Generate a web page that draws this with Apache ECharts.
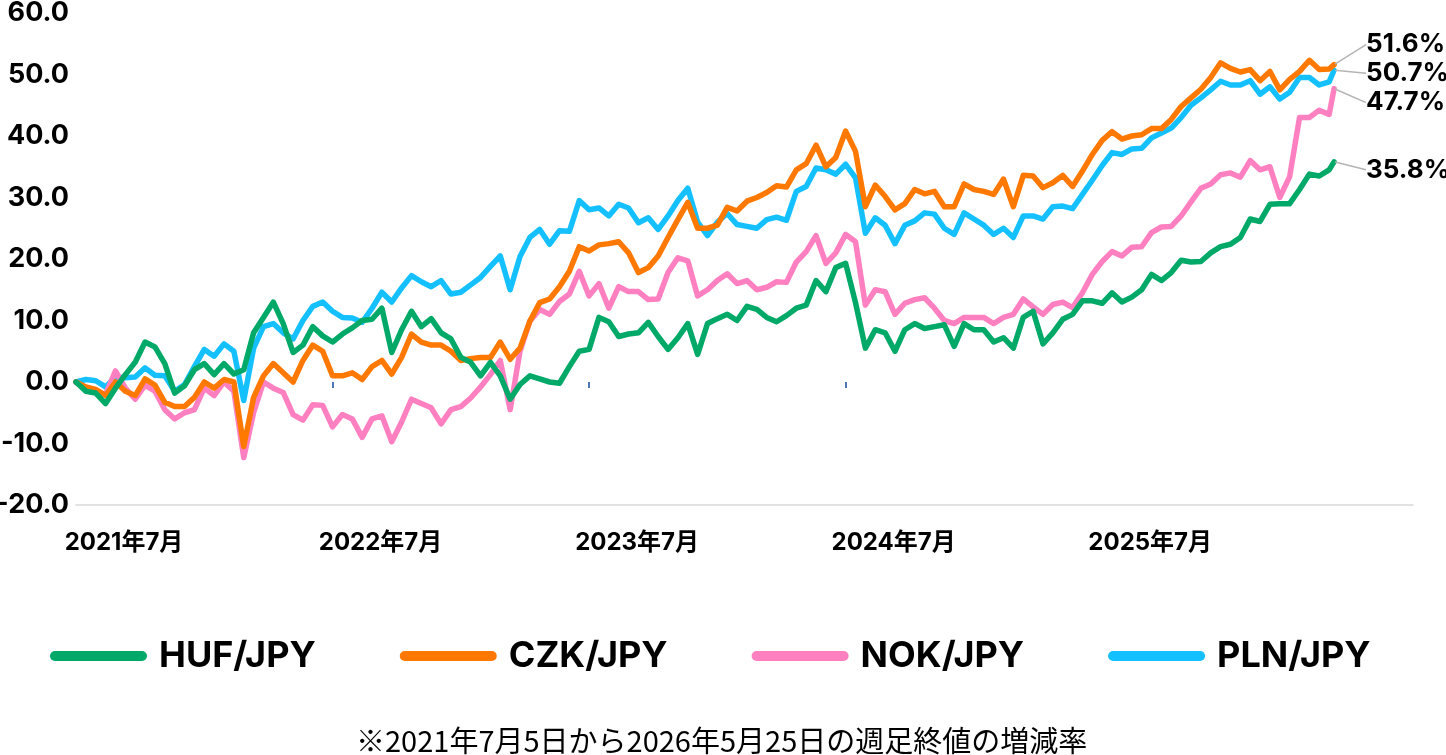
<!DOCTYPE html>
<html>
<head>
<meta charset="utf-8">
<script src="https://cdn.jsdelivr.net/npm/echarts@6/dist/echarts.min.js"></script>
<style>
  html, body { margin: 0; padding: 0; background: #fff; }
  #chart { width: 1446px; height: 755px; }
</style>
</head>
<body>
<div id="chart"></div>
<script>
// values, one every 2 weeks from 2021-07-05, last one = 2026-05-25
const hufJpy = [
  0, -1.5, -1.8, -3.5, -1, 1.2, 3.2, 6.5, 5.7, 3,
  -1.8, -0.6, 2, 3, 1.2, 3, 1.3, 2, 8, 10.5,
  13, 9.5, 4.8, 6, 9, 7.5, 6.5, 7.8, 8.8, 10,
  10.2, 12, 4.8, 8.5, 11.5, 9, 10.3, 8, 7, 4,
  3.2, 1, 3.2, 1, -2.8, -0.4, 1, 0.5, 0, -0.2,
  2.5, 5, 5.3, 10.5, 9.8, 7.4, 7.8, 8, 9.7, 7.4,
  5.3, 7.2, 9.5, 4.5, 9.5, 10.3, 11, 10, 12.3, 11.8,
  10.5, 9.8, 10.8, 12, 12.5, 16.5, 14.7, 18.6, 19.3, 12.9,
  5.5, 8.5, 8, 5, 8.5, 9.5, 8.7, 9, 9.3, 5.8,
  9.5, 8.5, 8.5, 6.5, 7.2, 5.5, 10.5, 11.5, 6.2, 8,
  10.2, 11, 13.2, 13.2, 12.8, 14.5, 13, 13.8, 15, 17.5,
  16.5, 17.8, 19.8, 19.5, 19.6, 21, 22, 22.4, 23.5, 26.5,
  26.1, 28.9, 29, 29, 31.3, 33.8, 33.5, 34.5, 35.8
];
const czkJpy = [
  0, -0.8, -1.2, -2.2, 0, -1.5, -2.2, 0.5, -0.5, -3.3,
  -4, -4, -2.5, 0, -1, 0.4, 0, -10.5, -2.5, 1,
  3, 1.5, 0, 3.5, 6, 5, 1, 1, 1.5, 0.4,
  2.5, 3.5, 1.3, 4, 7.8, 6.5, 6, 6, 5, 3.5,
  3.8, 4, 4, 6.5, 3.7, 5.5, 9.9, 12.9, 13.5, 15.5,
  18, 22, 21.3, 22.3, 22.5, 22.8, 21, 17.8, 18.6, 20.5,
  23.5, 26.4, 29.2, 25, 25, 25.5, 28.4, 27.8, 29.4, 30,
  30.8, 31.9, 31.7, 34.5, 35.5, 38.5, 35, 36.5, 40.8, 37.5,
  28.5, 32, 30.2, 28, 29, 31.3, 30.6, 31, 28.5, 28.5,
  32.2, 31.3, 31, 30.5, 33, 28.5, 33.6, 33.5, 31.6, 32.4,
  33.6, 31.8, 34.3, 37, 39.3, 40.7, 39.5, 40, 40.2, 41.2,
  41.2, 42.7, 44.8, 46.2, 47.6, 49.5, 51.9, 51, 50.4, 50.8,
  49, 50.5, 47.5, 49.2, 50.5, 52.3, 50.8, 50.9, 51.6
];
const nokJpy = [
  0, -1.2, -1.5, -2, 1.8, -1, -2.8, -0.5, -1.5, -4.5,
  -6, -5, -4.5, -1, -2.2, 0, -1.5, -12.3, -5, 0,
  -1, -1.7, -5.3, -6.2, -3.7, -3.8, -7.3, -5.3, -6, -9,
  -6, -5.5, -9.7, -6.5, -2.8, -3.5, -4.2, -6.8, -4.5, -4,
  -2.6, -0.8, 1.2, 3.5, -4.5, 5, 9.9, 11.8, 11, 13.1,
  14.3, 18, 14, 16, 12, 15.5, 14.7, 14.7, 13.4, 13.5,
  17.8, 20.2, 19.7, 14, 15, 16.5, 17.6, 16, 16.5, 15,
  15.4, 16.3, 16.2, 19.5, 21.2, 23.8, 19.3, 21, 24, 22.8,
  12.5, 15, 14.7, 11, 12.8, 13.4, 13.7, 12, 10, 9.5,
  10.5, 10.5, 10.5, 9.5, 10.5, 11, 13.5, 12.2, 11, 12.6,
  13, 12.1, 14.5, 17.5, 19.6, 21.2, 20.5, 21.9, 22, 24.3,
  25.2, 25.3, 27, 29.3, 31.5, 32.2, 33.7, 34, 33.3, 36,
  34.5, 35, 30, 33.4, 43, 43, 44.2, 43.5, 47.7
];
const plnJpy = [
  0, 0.4, 0.2, -0.8, 0.8, 0.7, 0.8, 2.3, 1.1, 1,
  -1.5, -0.4, 2.5, 5.3, 4.2, 6.2, 5, -3, 5.5, 9,
  9.5, 8, 7, 10, 12.3, 13, 11.5, 10.5, 10.4, 9.7,
  12, 14.6, 13, 15.3, 17.3, 16.3, 15.5, 16.5, 14.3, 14.6,
  15.8, 17, 18.8, 20.5, 15, 20.4, 23.5, 24.8, 22.4, 24.6,
  24.5, 29.5, 28, 28.3, 27, 28.9, 28.3, 25.9, 26.7, 24.8,
  27, 29.5, 31.5, 26, 23.8, 26, 27.4, 25.6, 25.3, 25,
  26.4, 26.8, 26.3, 31, 31.8, 34.8, 34.5, 33.8, 35.4, 33.2,
  24.2, 26.7, 25.5, 22.5, 25.5, 26.2, 27.5, 27.3, 25, 24,
  27.5, 26.5, 25.5, 24, 25, 23.5, 27, 27, 26.5, 28.5,
  28.6, 28.2, 30.5, 32.8, 35.2, 37.3, 37, 37.9, 38, 39.7,
  40.5, 41.3, 43, 45, 46.2, 47.5, 48.9, 48.3, 48.3, 49,
  46.8, 48, 46, 47.1, 49.5, 49.5, 48.3, 48.8, 50.7
];

const seriesNames = ['HUF/JPY', 'CZK/JPY', 'NOK/JPY', 'PLN/JPY'];
const seriesColors = ['#00A968', '#FF7800', '#FF80C0', '#14C0FF'];
const xTickLabels = ['2021年7月', '2022年7月', '2023年7月', '2024年7月', '2025年7月'];
const xTickWeeks = [0, 52, 104, 156, 208];
const tickMarkWeeks = [52, 104, 156];
const footnote = '※2021年7月5日から2026年5月25日の週足終値の増減率';

const FONT = 'Inter, "Noto Sans CJK JP", sans-serif';
const LAST_WEEK = 255;

// weekly categories from 2021-07-05, axis runs a bit past the last data week
const categories = [];
const start = Date.UTC(2021, 6, 5);
for (let i = 0; i < 272; i++) {
  categories.push(new Date(start + i * 7 * 86400000).toISOString().slice(0, 10));
}

const toPairs = (vals) =>
  vals.map((v, i) => [categories[i === vals.length - 1 ? LAST_WEEK : i * 2], v]);

const lineSeries = (idx, vals) => ({
  name: seriesNames[idx],
  type: 'line',
  data: toPairs(vals),
  showSymbol: false,
  lineStyle: { width: 5.5, color: seriesColors[idx], cap: 'round', join: 'round' },
  itemStyle: { color: seriesColors[idx] },
  emphasis: { disabled: true },
});

// end labels: orange, blue, pink, green
const endOrder = [1, 3, 2, 0];
const endSeries = [czkJpy, plnJpy, nokJpy, hufJpy];
const endDy = [-20, 3, 14, 8];

const chart = echarts.init(document.getElementById('chart'));

const option = {
  backgroundColor: '#fff',
  animation: false,
  grid: { left: 76, right: 33, top: 13, bottom: 250, outerBoundsMode: 'none' },
  title: {
    text: footnote,
    left: 356,
    top: 726,
    padding: 0,
    textStyle: { fontSize: 29, fontWeight: 'normal', color: '#000', fontFamily: '"Noto Sans CJK JP", sans-serif' },
  },
  legend: {
    data: seriesNames,
    left: 50,
    top: 638,
    padding: 0,
    itemWidth: 97,
    itemHeight: 10,
    itemGap: 84,
    icon: 'path://M5 0H92A5 5 0 0 1 92 10H5A5 5 0 0 1 5 0Z',
    textStyle: { fontSize: 36, fontWeight: 'bold', color: '#000', fontFamily: FONT, padding: [0, 0, 0, 7] },
  },
  xAxis: [
    {
      type: 'category',
      data: categories,
      boundaryGap: false,
      axisLine: { onZero: false, lineStyle: { color: '#d9d9d9', width: 1.5 } },
      axisTick: { show: false },
      splitLine: { show: false },
      axisLabel: {
        interval: (i) => xTickWeeks.includes(i),
        formatter: (v, i) => '{s| }{t|' + xTickLabels[xTickWeeks.indexOf(i)] + '}',
        margin: 26,
        rich: {
          s: { width: 96 },
          t: { fontSize: 24, fontWeight: 'bold', color: '#000', fontFamily: FONT },
        },
      },
    },
    {
      type: 'category',
      data: categories,
      boundaryGap: false,
      position: 'bottom',
      axisLine: { show: true, onZero: true, lineStyle: { opacity: 0 } },
      axisTick: {
        show: true,
        interval: (i) => tickMarkWeeks.includes(i),
        length: 6,
        lineStyle: { color: '#4f77b8', width: 2 },
      },
      axisLabel: { show: false },
      splitLine: { show: false },
    },
  ],
  yAxis: {
    type: 'value',
    min: -20,
    max: 60,
    interval: 10,
    axisLine: { show: false },
    axisTick: { show: false },
    splitLine: { show: false },
    axisLabel: {
      formatter: (v) => v.toFixed(1),
      fontSize: 27,
      fontWeight: 'bold',
      color: '#000',
      fontFamily: FONT,
      margin: 7,
      padding: [0, 0, 8, 0],
    },
  },
  series: [
    lineSeries(3, plnJpy),
    lineSeries(2, nokJpy),
    lineSeries(1, czkJpy),
    lineSeries(0, hufJpy),
    {
      name: 'end',
      type: 'scatter',
      data: endSeries.map((a, i) => ({
        value: [categories[LAST_WEEK], a[a.length - 1]],
        itemStyle: { color: seriesColors[endOrder[i]], opacity: 1 },
      })),
      symbolSize: 2,
      itemStyle: { opacity: 1 },
      silent: true,
      z: 10,
      label: {
        show: true,
        position: 'right',
        distance: 4,
        formatter: (p) => p.value[1].toFixed(1) + '%',
        fontSize: 26,
        fontWeight: 'bold',
        color: '#000',
        fontFamily: FONT,
        padding: [0, 0, 0, 14],
      },
      labelLine: { show: true, lineStyle: { color: '#b4b4b4', width: 1.5 } },
      labelLayout: (p) => ({ dx: 13, dy: endDy[p.dataIndex] }),
    },
  ],
};

chart.setOption(option);
</script>
</body>
</html>
